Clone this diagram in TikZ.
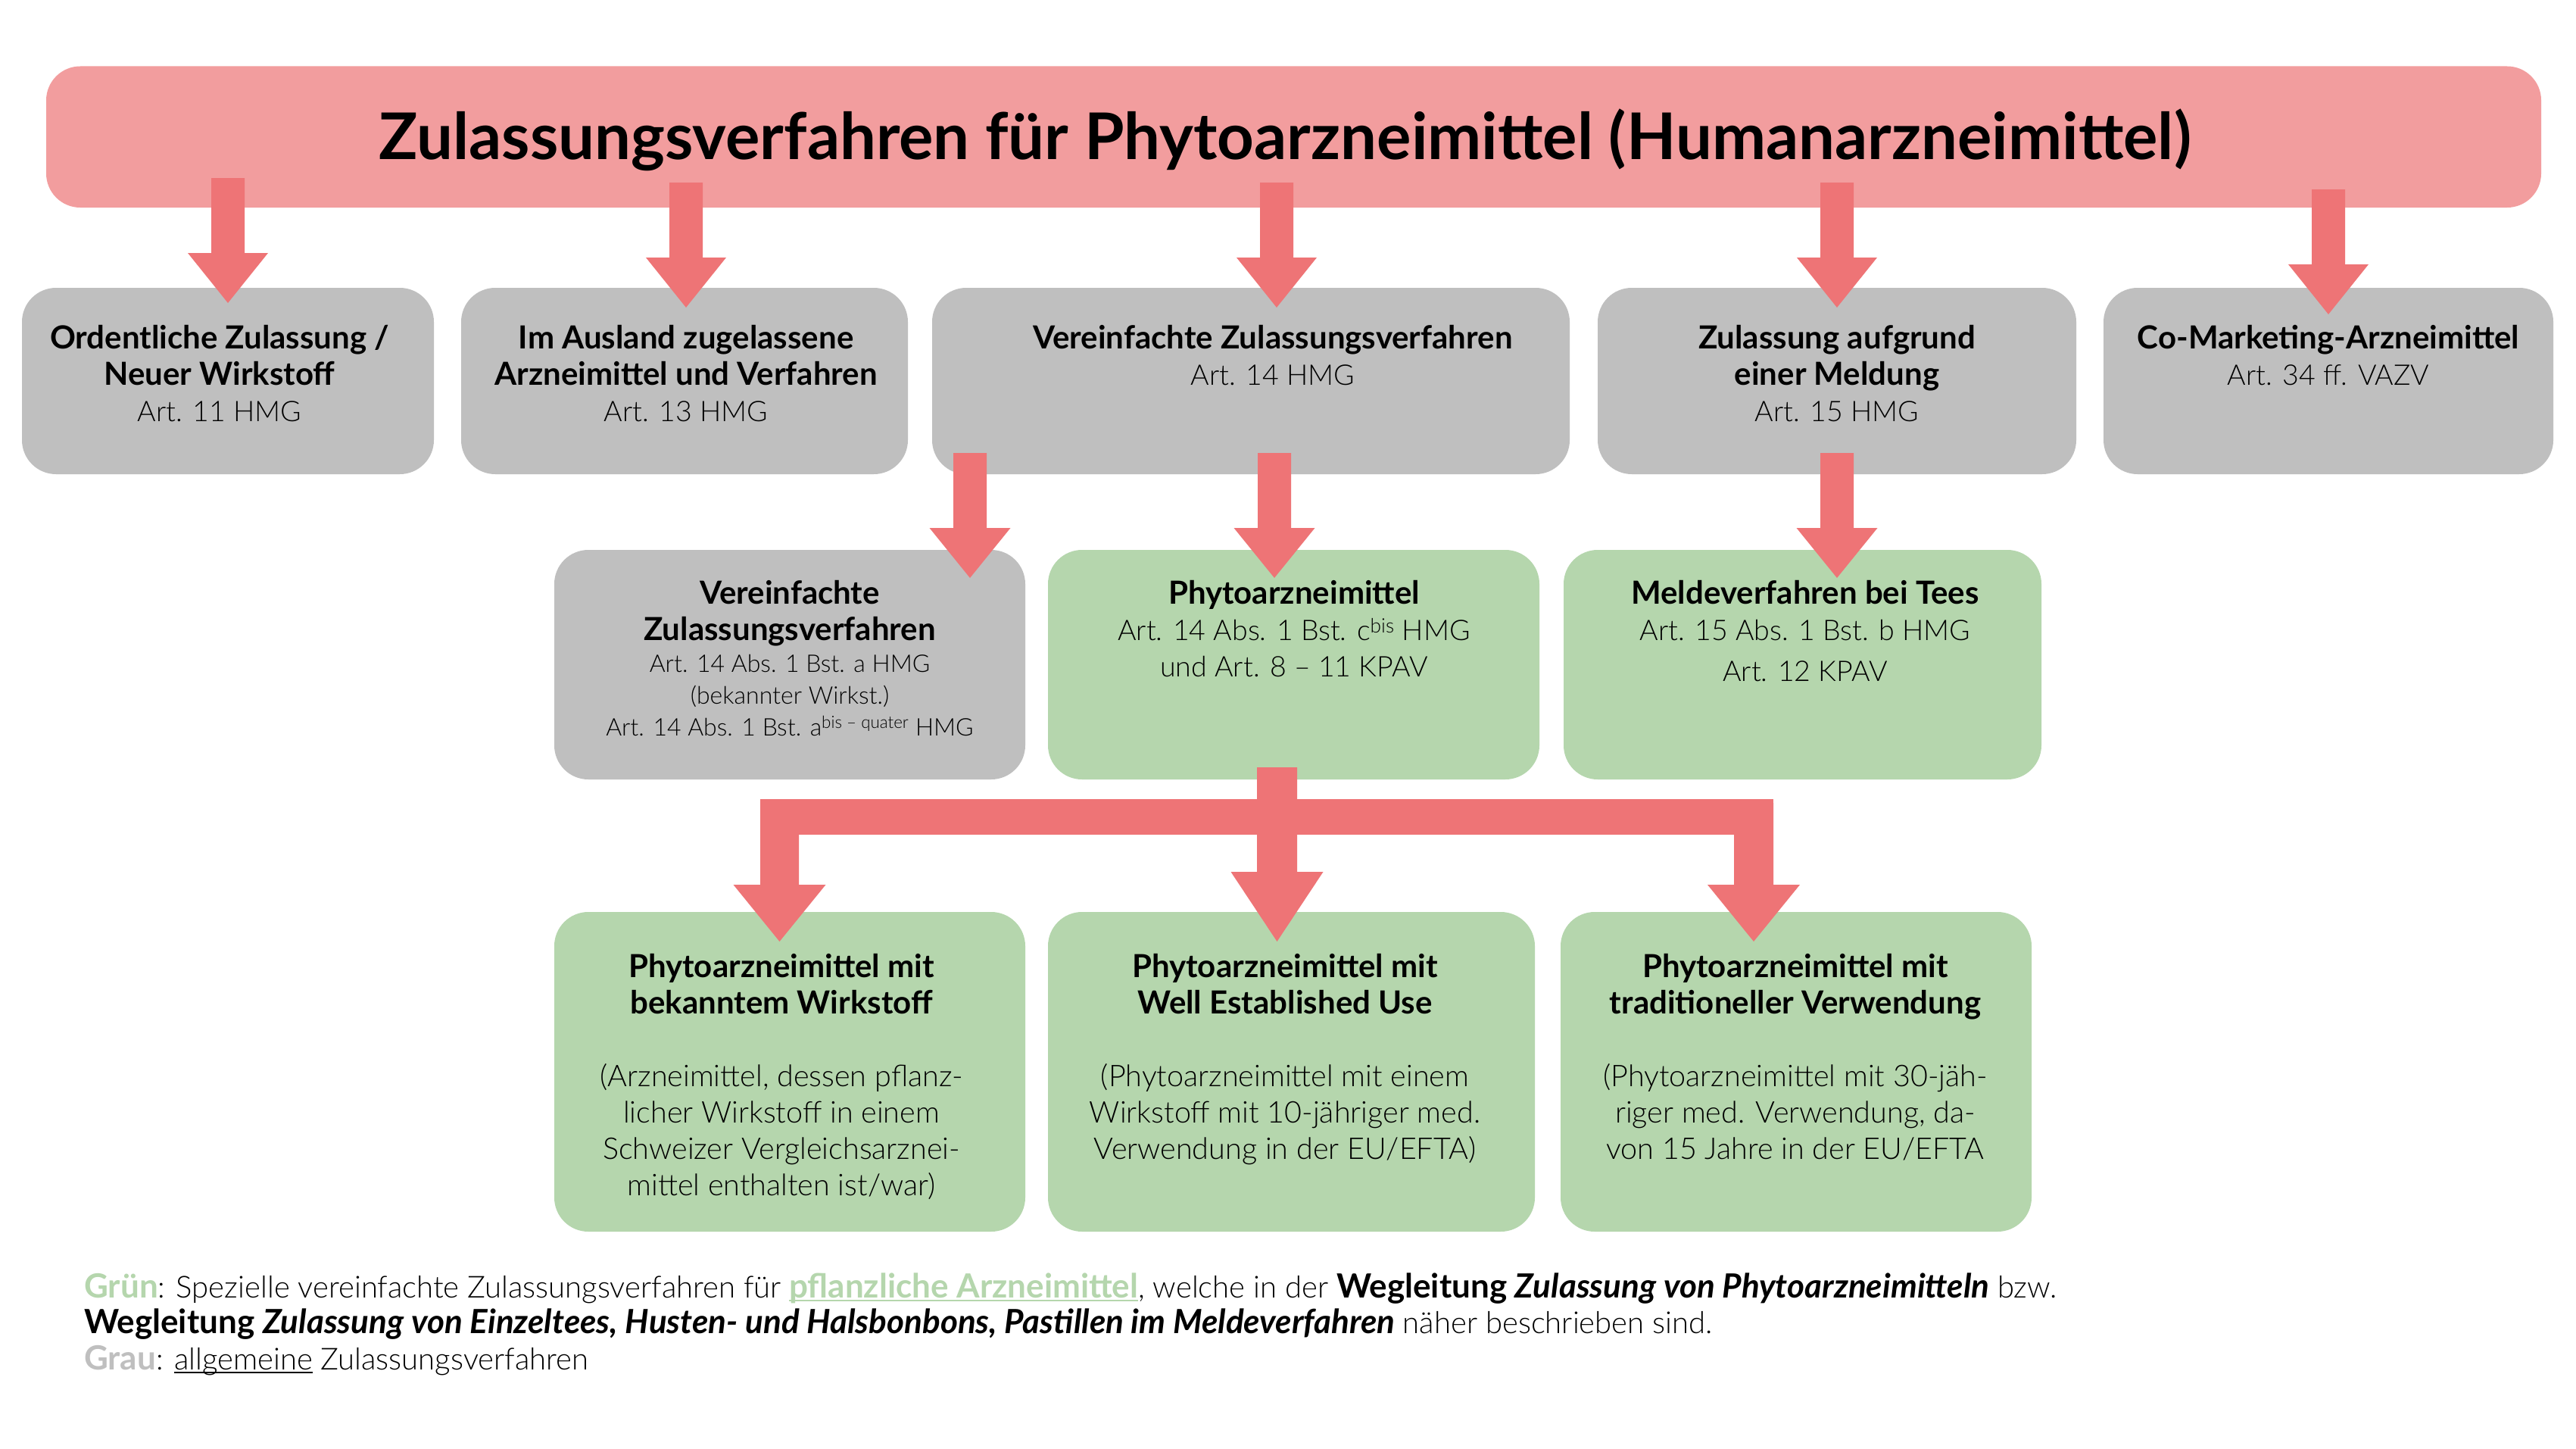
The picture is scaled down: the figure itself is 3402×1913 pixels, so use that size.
\documentclass[tikz,border=0pt]{standalone}
\usepackage{fontspec}
\setmainfont{Lato}[UprightFont={* Light},ItalicFont={* Light Italic},BoldFont={* Bold},BoldItalicFont={* Bold Italic}]
\usetikzlibrary{calc}
\definecolor{titlepink}{HTML}{F29D9E}
\definecolor{arrowred}{HTML}{EE7476}
\definecolor{boxgray}{HTML}{BFBFBF}
\definecolor{boxgreen}{HTML}{B5D6AD}
\newsavebox\ulbox
\newcommand\myul[1]{\sbox\ulbox{#1}\rlap{\rule[-5pt]{\wd\ulbox}{2.5pt}}\usebox\ulbox}
\newcommand\B[1]{{\fontsize{42}{48}\selectfont\bfseries #1}}
\newcommand\FB[1]{{\fontsize{44}{47.5}\selectfont\bfseries #1}}
\newcommand\blockarr[5]{\fill[arrowred] let \p1=(#1),\p2=(#2) in
  (\x1-#3,\y1) -- (\x1+#3,\y1) -- (\x1+#3,\y2+#5) -- (\x1+#4,\y2+#5) -- (\x1,\y2)
  -- (\x1-#4,\y2+#5) -- (\x1-#3,\y2+#5) -- cycle;}
\begin{document}
\begin{tikzpicture}[x=1pt,y=-1pt,
  box/.style={rectangle,rounded corners=45pt,inner sep=0pt,outer sep=0pt,draw=none},
  graybox/.style={box,fill=boxgray},
  greenbox/.style={box,fill=boxgreen},
  bx/.style={font=\fontsize{37.5}{48}\selectfont,align=center,anchor=base,inner sep=0pt},
  lbx/.style={font=\fontsize{39.5}{48}\selectfont,align=center,anchor=base,inner sep=0pt},
  sbx/.style={font=\fontsize{32}{42}\selectfont,align=center,anchor=base,inner sep=0pt}]
\useasboundingbox (0,0) rectangle (3402,1913);
\fill[white] (0,0) rectangle (3402,1913);
% boxes
\node[box,fill=titlepink,rounded corners=45pt,minimum width=3295pt,minimum height=186.5pt] (title) at (1708.5,180.75) {};
\node[graybox,minimum width=544pt,minimum height=246pt] (b1) at (301,503) {};
\node[graybox,minimum width=590pt,minimum height=246pt] (b2) at (904,503) {};
\node[graybox,minimum width=842pt,minimum height=246pt] (b3) at (1652,503) {};
\node[graybox,minimum width=632pt,minimum height=246pt] (b4) at (2426,503) {};
\node[graybox,minimum width=594pt,minimum height=246pt] (b5) at (3075,503) {};
\node[graybox,minimum width=622pt,minimum height=303pt] (b6) at (1043,877.5) {};
\node[greenbox,minimum width=649pt,minimum height=303pt] (b7) at (1708.5,877.5) {};
\node[greenbox,minimum width=631pt,minimum height=303pt] (b8) at (2380.5,877.5) {};
\node[greenbox,minimum width=622pt,minimum height=422pt] (b9) at (1043,1415) {};
\node[greenbox,minimum width=643pt,minimum height=422pt] (b10) at (1705.5,1415) {};
\node[greenbox,minimum width=622pt,minimum height=422pt] (b11) at (2372,1415) {};
% arrow end points
\coordinate (t1s) at (301,235);  \coordinate (t1e) at (301,400);
\coordinate (t2s) at (906,241);  \coordinate (t2e) at (906,406);
\coordinate (t3s) at (1686,241); \coordinate (t3e) at (1686,406);
\coordinate (t4s) at (2426,241); \coordinate (t4e) at (2426,406);
\coordinate (t5s) at (3075,250); \coordinate (t5e) at (3075,415);
\coordinate (r1s) at (1281,598); \coordinate (r1e) at (1281,763);
\coordinate (r2s) at (1683,598); \coordinate (r2e) at (1683,763);
\coordinate (r3s) at (2426,598); \coordinate (r3e) at (2426,763);
\coordinate (d0s) at (1686.5,1013); \coordinate (d0e) at (1686.5,1243);
\coordinate (d1s) at (1029.5,1060); \coordinate (d1e) at (1029.5,1243);
\coordinate (d3s) at (2316,1060);   \coordinate (d3e) at (2316,1243);
% arrows
\blockarr{t1s}{t1e}{22pt}{53pt}{66pt}
\blockarr{t2s}{t2e}{22pt}{53pt}{66pt}
\blockarr{t3s}{t3e}{22pt}{53pt}{66pt}
\blockarr{t4s}{t4e}{22pt}{53pt}{66pt}
\blockarr{t5s}{t5e}{22pt}{53pt}{66pt}
\blockarr{r1s}{r1e}{22pt}{53.5pt}{66pt}
\blockarr{r2s}{r2e}{22pt}{53.5pt}{66pt}
\blockarr{r3s}{r3e}{22pt}{53.5pt}{66pt}
\fill[arrowred] (1004,1055) rectangle (2342,1102);
\blockarr{d0s}{d0e}{26.5pt}{61pt}{92pt}
\blockarr{d1s}{d1e}{25.5pt}{61pt}{75pt}
\blockarr{d3s}{d3e}{26pt}{61pt}{75pt}
% texts (base anchor = baseline of last line)
\node[anchor=base,inner sep=0pt,font=\fontsize{85}{96}\selectfont\bfseries] (ttl) at (1697,211) {Zulassungsverfahren für Phytoarzneimittel (Humanarzneimittel)};
\node[bx] (x1) at (290,556) {\B{Ordentliche Zulassung /}\\\B{Neuer Wirkstoff}\\Art. 11 HMG};
\node[bx] (x2) at (906,556) {\B{Im Ausland zugelassene}\\\B{Arzneimittel und Verfahren}\\Art. 13 HMG};
\node[bx] (x3) at (1681,508) {\B{Vereinfachte Zulassungsverfahren}\\Art. 14 HMG};
\node[bx] (x4) at (2426,556) {\B{Zulassung aufgrund}\\\B{einer Meldung}\\Art. 15 HMG};
\node[bx] (x5) at (3075,508) {\B{Co-Marketing-Arzneimittel}\\Art. 34 ff. VAZV};
\node[bx] (x6a) at (1043,845) {\B{Vereinfachte}\\\B{Zulassungsverfahren}};
\node[sbx] (x6b) at (1043,971) {Art. 14 Abs. 1 Bst. a HMG\\(bekannter Wirkst.)\\Art. 14 Abs. 1 Bst. a\textsuperscript{bis – quater} HMG};
\node[bx] (x7) at (1709,893) {\B{Phytoarzneimittel}\\Art. 14 Abs. 1 Bst. c\textsuperscript{bis} HMG\\und Art. 8 – 11 KPAV};
\node[bx] (x8) at (2384,899) {\B{Meldeverfahren bei Tees}\\Art. 15 Abs. 1 Bst. b HMG\\[6pt]Art. 12 KPAV};
\node[lbx] (x9) at (1032,1578) {\B{Phytoarzneimittel mit}\\\B{bekanntem Wirkstoff}\\[48pt](Arzneimittel, dessen pflanz-\\licher Wirkstoff in einem\\Schweizer Vergleichsarznei-\\mittel enthalten ist/war)};
\node[lbx] (x10) at (1697,1530) {\B{Phytoarzneimittel mit}\\\B{Well Established Use}\\[48pt](Phytoarzneimittel mit einem\\Wirkstoff mit 10-jähriger med.\\Verwendung in der EU/EFTA)};
\node[lbx] (x11) at (2371,1530) {\B{Phytoarzneimittel mit}\\\B{traditioneller Verwendung}\\[48pt](Phytoarzneimittel mit 30-jäh-\\riger med. Verwendung, da-\\von 15 Jahre in der EU/EFTA};
\node[anchor=base west,align=left,inner sep=0pt,font=\fontsize{40}{47.5}\selectfont] (foot) at (111,1808)
 {{\color{boxgreen}\FB{Grün}}: Spezielle vereinfachte Zulassungsverfahren für {\color{boxgreen}\myul{\FB{pflanzliche Arzneimittel}}}, welche in der \FB{Wegleitung \textit{Zulassung von Phytoarzneimitteln}} bzw.\\
 \FB{Wegleitung \textit{Zulassung von Einzeltees, Husten- und Halsbonbons, Pastillen im Meldeverfahren}} näher beschrieben sind.\\
 {\color{boxgray}\FB{Grau}}: \myul{allgemeine} Zulassungsverfahren};
\end{tikzpicture}
\end{document}
